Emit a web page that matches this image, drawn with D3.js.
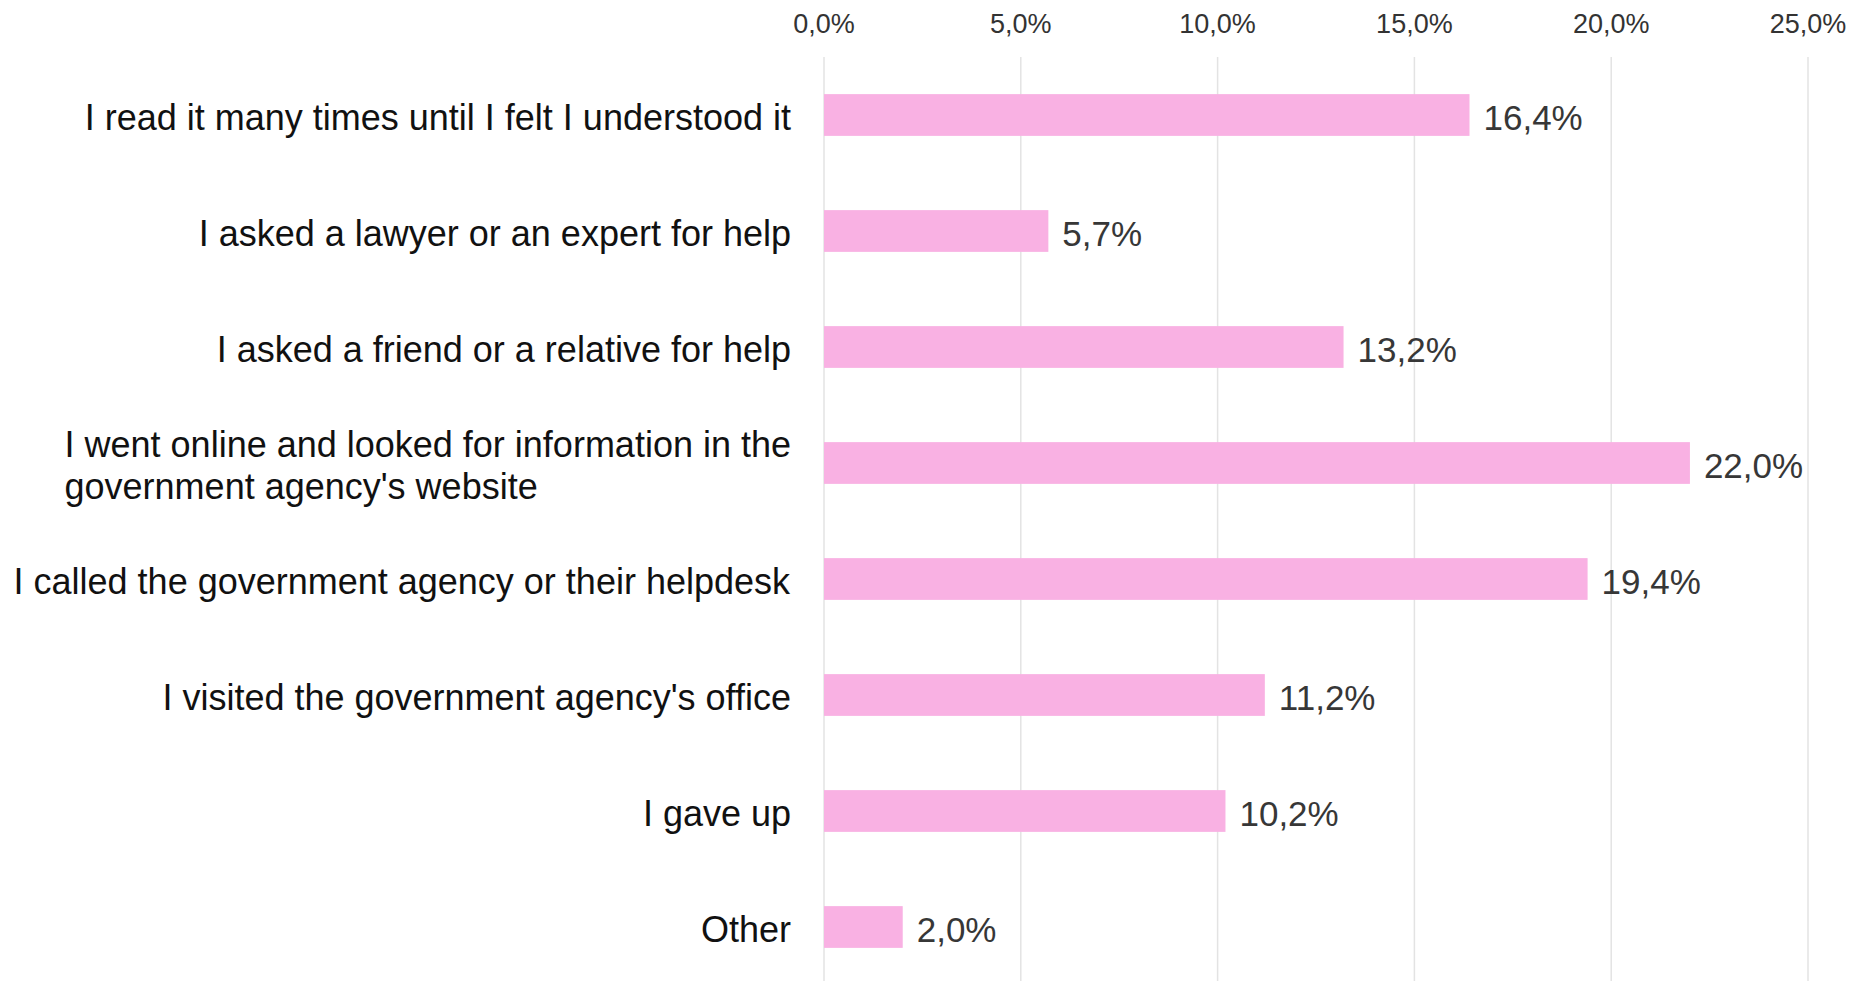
<!DOCTYPE html>
<html>
<head>
<meta charset="utf-8">
<script src="https://cdn.jsdelivr.net/npm/d3@7"></script>
<style>
  html, body { margin: 0; padding: 0; background: #ffffff; }
  svg { display: block; }
</style>
</head>
<body>
<svg id="chart" width="1857" height="981"></svg>
<script>
const categories = [
  ["I read it many times until I felt I understood it"],
  ["I asked a lawyer or an expert for help"],
  ["I asked a friend or a relative for help"],
  ["I went online and looked for information in the", "government agency's website"],
  ["I called the government agency or their helpdesk"],
  ["I visited the government agency's office"],
  ["I gave up"],
  ["Other"]
];
const values = [0.164, 0.057, 0.132, 0.220, 0.194, 0.112, 0.102, 0.020];
const tickValues = [0, 0.05, 0.10, 0.15, 0.20, 0.25];

const W = 1857, H = 981;
const svg = d3.select("#chart");
const font = "'Liberation Sans', Arial, Helvetica, sans-serif";

const loc = d3.formatLocale({decimal: ",", thousands: ".", grouping: [3], currency: ["", "€"]});
const fmt = loc.format(".1%");

const keys = categories.map((c, i) => String(i));
const x = d3.scaleLinear().domain([0, 0.25]).range([824, 1808]);
const y = d3.scaleBand().domain(keys).range([57, 985]).paddingInner(0.64).paddingOuter(0.32);
const textShift = 2.5;

// gridlines
svg.append("g").selectAll("line").data(tickValues).join("line")
  .attr("x1", d => x(d)).attr("x2", d => x(d))
  .attr("y1", 57).attr("y2", H)
  .attr("stroke", "#e3e3e3").attr("stroke-width", 1.5);

// tick labels
svg.append("g").selectAll("text").data(tickValues).join("text")
  .attr("x", d => x(d)).attr("y", 24)
  .attr("text-anchor", "middle").attr("dominant-baseline", "central")
  .attr("font-family", font).attr("font-size", 27).attr("fill", "#333333")
  .text(d => fmt(d));

// bars
svg.append("g").selectAll("rect").data(values).join("rect")
  .attr("x", x(0)).attr("y", (d, i) => y(keys[i]))
  .attr("width", d => x(d) - x(0)).attr("height", y.bandwidth())
  .attr("fill", "#f9b1e3");

// value labels
svg.append("g").selectAll("text").data(values).join("text")
  .attr("x", d => x(d) + 14).attr("y", (d, i) => y(keys[i]) + y.bandwidth() / 2 + textShift)
  .attr("dominant-baseline", "central")
  .attr("font-family", font).attr("font-size", 35).attr("fill", "#373737")
  .text(d => fmt(d));

// category labels
const labelRight = 791;
const lineH = 42;
const lg = svg.append("g");
categories.forEach((lines, i) => {
  const cy = y(keys[i]) + y.bandwidth() / 2 + textShift;
  const t = lg.append("text")
    .attr("font-family", font).attr("font-size", 36).attr("fill", "#111111");
  lines.forEach((ln, j) => {
    t.append("tspan").attr("x", 0)
      .attr("y", cy + (j - (lines.length - 1) / 2) * lineH)
      .attr("dominant-baseline", "central")
      .text(ln);
  });
  const w = t.node().getBBox().width;
  t.attr("transform", `translate(${labelRight - w},0)`);
});
</script>
</body>
</html>
